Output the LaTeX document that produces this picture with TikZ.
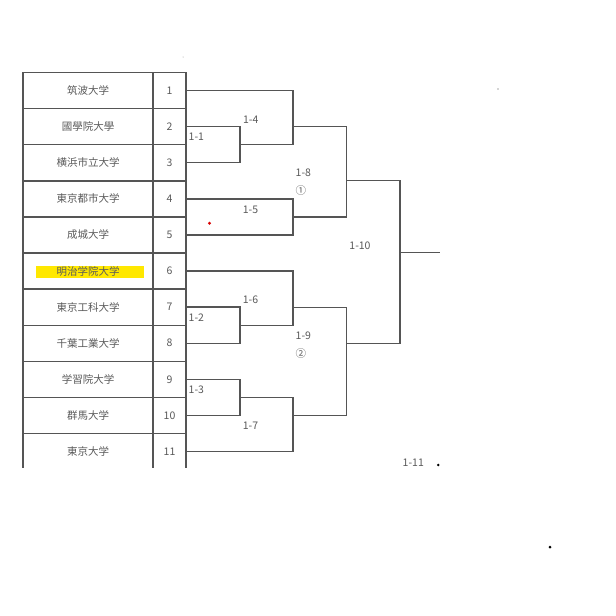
\documentclass[tikz,border=0pt]{standalone}
\usepackage{fontspec}
\setmainfont{Noto Sans CJK JP}
\begin{document}
\begin{tikzpicture}[x=1pt,y=-1pt,
  namecell/.style={draw=lineC,line width=1.4pt,minimum width=130pt,minimum height=36.1pt,inner sep=0pt,text=textC,font=\fontsize{10.5}{11}\selectfont},
  numcell/.style={draw=lineC,line width=1.4pt,minimum width=33pt,minimum height=36.1pt,inner sep=0pt,text=textC,font=\fontsize{10.5}{11}\selectfont},
  br/.style={draw=lineC,line width=1.4pt},
  lbl/.style={text=textC,inner sep=0pt,font=\fontsize{10.5}{11}\selectfont},
]
\definecolor{lineC}{HTML}{555555}
\definecolor{textC}{HTML}{5A5A5A}
\definecolor{hiY}{HTML}{FFE800}
\useasboundingbox (0,0) rectangle (616,616);
\fill[white] (0,0) rectangle (616,616);
% highlight
\fill[hiY] (36,266) rectangle (144,277.5);
\begin{scope}
\clip (0,0) rectangle (616,467);
\foreach \i/\nm in {1/筑波大学,2/國學院大學,3/横浜市立大学,4/東京都市大学,5/成城大学,6/明治学院大学,7/東京工科大学,8/千葉工業大学,9/学習院大学,10/群馬大学,11/東京大学}{
  \node[namecell] (u\i) at (88,{72.5+36.1*(\i-0.5)}) {\nm};
  \node[numcell] (n\i) at (169.5,{72.5+36.1*(\i-0.5)}) {\i};
}
\end{scope}
% joints
\coordinate (j11) at (240,144.7);
\coordinate (j14) at (293,144.7);
\coordinate (j15) at (293,216.8);
\coordinate (j12) at (240,325.3);
\coordinate (j16) at (293,325.3);
\coordinate (j13) at (240,397.5);
\coordinate (j17) at (293,397.5);
\coordinate (o14) at (293,126.6);
\coordinate (j18a) at (346.7,126.6);
\coordinate (j18b) at (346.7,216.8);
\coordinate (o16) at (293,307.2);
\coordinate (j19a) at (346.7,307.2);
\coordinate (o17) at (293,415.5);
\coordinate (j19b) at (346.7,415.5);
\coordinate (o18) at (346.7,180.7);
\coordinate (j110a) at (400,180.7);
\coordinate (o19) at (346.7,343.3);
\coordinate (j110b) at (400,343.3);
\coordinate (o110) at (400,252.7);
\coordinate (fin) at (440,252.7);
% first round
\draw[br] (n2.east) -| (j11) |- (n3.east);
\draw[br] (n7.east) -| (j12) |- (n8.east);
\draw[br] (n9.east) -| (j13) |- (n10.east);
% second round
\draw[br] (n1.east) -| (j14) -- (j11);
\draw[br] (n4.east) -| (j15) |- (n5.east);
\draw[br] (n6.east) -| (j16) -- (j12);
\draw[br] (j13) -- (j17) |- (n11.east);
% outputs
\draw[br] (o14) -- (j18a) -- (j18b) -- (j15);
\draw[br] (o16) -- (j19a) -- (j19b) -- (o17);
\draw[br] (o18) -- (j110a) -- (j110b) -- (o19);
\draw[br] (o110) -- (fin);
% labels
\node[lbl,anchor=west] (l11) at (188.5,136.7) {1-1};
\node[lbl,anchor=west] (l12) at (188.5,317.7) {1-2};
\node[lbl,anchor=west] (l13) at (188.5,390) {1-3};
\node[lbl] (l14) at (250.7,119.3) {1-4};
\node[lbl] (l15) at (250.5,210) {1-5};
\node[lbl] (l16) at (250.5,300) {1-6};
\node[lbl] (l17) at (250.5,426) {1-7};
\node[lbl,anchor=west] (l18) at (295.5,172.7) {1-8};
\node[lbl,anchor=west] (c1) at (295.5,190.7) {①};
\node[lbl,anchor=west] (l19) at (295.5,336) {1-9};
\node[lbl,anchor=west] (c2) at (295.5,353.3) {②};
\node[lbl] (l110) at (360,245.3) {1-10};
\node[lbl] (l111) at (413.3,462.7) {1-11};
% stray dots
\fill[black] (438.3,465) circle (1.4);
\fill[black] (550,547) circle (1.5);
\fill[black!70] (498,89) circle (0.6);
\fill[black!40] (183,57) circle (0.5);
\fill[red!85!black] (209.5,223.3) circle (1.6);
\end{tikzpicture}
\end{document}
